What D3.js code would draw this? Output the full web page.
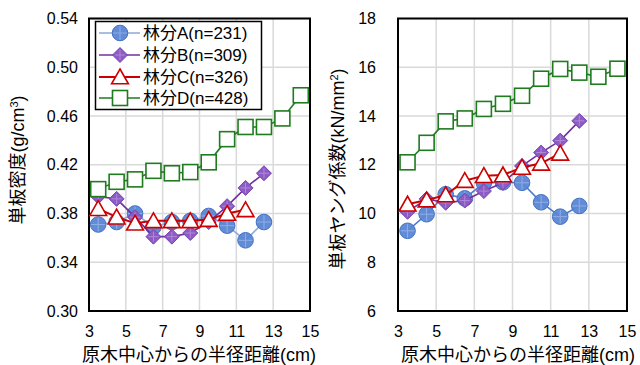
<!DOCTYPE html>
<html><head><meta charset="utf-8">
<script src="https://cdn.jsdelivr.net/npm/d3@7"></script>
<style>
html,body{margin:0;padding:0;background:#fff;}
svg{display:block;font-family:"Liberation Sans","Noto Sans CJK JP",sans-serif;}
</style></head><body>
<svg id="c" width="640" height="365"></svg>
<script>
// ---- data ----
const xs = [3.5,4.5,5.5,6.5,7.5,8.5,9.5,10.5,11.5,12.5,13.5,14.5];
const seriesNames = ["林分A(n=231)","林分B(n=309)","林分C(n=326)","林分D(n=428)"];
const densityA = [0.371,0.373,0.380,0.369,0.373,0.374,0.378,0.370,0.358,0.373];
const densityB = [0.394,0.392,0.377,0.361,0.361,0.364,0.373,0.386,0.401,0.413];
const densityC = [0.384,0.377,0.372,0.374,0.374,0.374,0.375,0.380,0.383];
const densityD = [0.400,0.406,0.408,0.415,0.413,0.414,0.422,0.441,0.451,0.451,0.458,0.477];
const modulusA = [9.29,9.97,10.79,10.62,11.26,11.28,11.26,10.46,9.87,10.31];
const modulusB = [10.07,10.60,10.44,10.53,10.92,11.26,11.95,12.50,12.99,13.80];
const modulusC = [10.38,10.55,10.76,11.35,11.55,11.58,11.89,12.06,12.47];
const modulusD = [12.10,12.90,13.78,13.90,14.29,14.50,14.83,15.53,15.93,15.78,15.61,15.94];
const xTicks = [3,5,7,9,11,13,15];
const densityTicks = [0.30,0.34,0.38,0.42,0.46,0.50,0.54];
const modulusTicks = [6,8,10,12,14,16,18];
const xTitle = "原木中心からの半径距離(cm)";

const FONT = "Liberation Sans, Noto Sans CJK JP, sans-serif";
const svg = d3.select("#c");
const styles = [
  {line:"#8EA9DB", lw:1.6, marker:"circle"},
  {line:"#7030A0", lw:1.6, marker:"diamond"},
  {line:"#CC0000", lw:2,   marker:"triangle"},
  {line:"#1E7B1E", lw:1.6, marker:"square"}
];

function drawMarker(g, type, x, y){
  if(type==="circle"){
    g.append("circle").attr("cx",x).attr("cy",y).attr("r",7.8)
      .attr("fill","#5B86D4").attr("stroke","#4472C4").attr("stroke-width",1).attr("fill-opacity",0.95);
    g.append("path").attr("d",`M${x-7},${y}H${x+7}M${x},${y-7}V${y+7}`)
      .attr("stroke","#8FAEE6").attr("stroke-width",1);
  } else if(type==="diamond"){
    const s=7.5;
    g.append("path").attr("d",`M${x},${y-s}L${x+s},${y}L${x},${y+s}L${x-s},${y}Z`)
      .attr("fill","#8C5BC4").attr("stroke","#7A45B5").attr("stroke-width",1);
    g.append("path").attr("d",`M${x-5},${y}H${x+5}M${x},${y-5}V${y+5}`)
      .attr("stroke","#B08AD8").attr("stroke-width",1);
  } else if(type==="triangle"){
    const s=8;
    g.append("path").attr("d",`M${x},${y-s}L${x+s*1.05},${y+s*0.85}L${x-s*1.05},${y+s*0.85}Z`)
      .attr("fill","#fff").attr("stroke","#CC0000").attr("stroke-width",1.6);
  } else {
    const s=7.5;
    g.append("rect").attr("x",x-s).attr("y",y-s).attr("width",2*s).attr("height",2*s)
      .attr("fill","#fff").attr("stroke","#1E7B1E").attr("stroke-width",1.6);
  }
}

function panel(cfg){
  const x = d3.scaleLinear().domain([3,15]).range([cfg.x0,cfg.x1]);
  const y = d3.scaleLinear().domain(cfg.domain).range([311,18.5]);
  const g = svg.append("g");
  // grid
  g.selectAll(".vg").data(xTicks).join("line")
    .attr("x1",d=>x(d)).attr("x2",d=>x(d)).attr("y1",y.range()[0]).attr("y2",y.range()[1])
    .attr("stroke","#D9D9D9").attr("stroke-width",1.5);
  g.selectAll(".hg").data(cfg.ticks).join("line")
    .attr("y1",d=>y(d)).attr("y2",d=>y(d)).attr("x1",cfg.x0).attr("x2",cfg.x1)
    .attr("stroke","#D9D9D9").attr("stroke-width",1.5);
  // axes with d3
  const ax = d3.axisBottom(x).tickValues(xTicks).tickSize(0).tickPadding(15).tickFormat(d3.format("d"));
  const ga = g.append("g").attr("transform","translate(0,311)").call(ax);
  ga.select(".domain").remove();
  ga.selectAll("text").attr("font-size",16).attr("fill","#000")
    .attr("font-family","Liberation Sans, sans-serif").attr("dy","0.71em");
  const ay = d3.axisLeft(y).tickValues(cfg.ticks).tickSize(0).tickPadding(cfg.x0-cfg.labelX).tickFormat(cfg.fmt);
  const gy = g.append("g").attr("transform",`translate(${cfg.x0},0)`).call(ay);
  gy.select(".domain").remove();
  gy.selectAll("text").attr("font-size",16).attr("fill","#000").attr("font-family","Liberation Sans, sans-serif");
  // frame
  g.append("rect").attr("x",cfg.x0).attr("y",18.5).attr("width",cfg.x1-cfg.x0).attr("height",311-18.5)
    .attr("fill","none").attr("stroke","#000").attr("stroke-width",2);
  // series
  cfg.series.forEach((vals,i)=>{
    const st = styles[i];
    const pts = vals.map((v,j)=>[xs[j],v]);
    g.append("path").datum(pts)
      .attr("d",d3.line().x(d=>x(d[0])).y(d=>y(d[1])))
      .attr("fill","none").attr("stroke",cfg.lineColors[i]).attr("stroke-width",st.lw);
    const mg = g.append("g");
    pts.forEach(p=>drawMarker(mg, st.marker, x(p[0]), y(p[1])));
  });
  // y title
  const t = g.append("text").attr("transform",`translate(${cfg.titleX},${cfg.titleY}) rotate(-90)`)
    .attr("text-anchor","middle").attr("font-size",18).attr("fill","#000")
    .attr("font-family",FONT);
  t.append("tspan").text(cfg.title[0]);
  t.append("tspan").text(cfg.title[1]).attr("font-size",11).attr("baseline-shift","super");
  t.append("tspan").text(")");
  // x title
  g.append("text").attr("x",cfg.xTitleX).attr("y",361).attr("text-anchor","middle")
    .attr("font-size",18).attr("fill","#000").attr("font-family",FONT)
    .text(xTitle);
  return {x,y};
}

panel({x0:89,x1:310,domain:[0.30,0.54],ticks:densityTicks,fmt:d3.format(".2f"),labelX:78,
  series:[densityA,densityB,densityC,densityD],
  lineColors:["#8EA9DB","#7030A0","#CC0000","#1E7B1E"],
  title:["単板密度(g/cm","3"],titleX:24,titleY:160,xTitleX:199});
panel({x0:398,x1:627,domain:[6,18],ticks:modulusTicks,fmt:d3.format("d"),labelX:376,
  series:[modulusA,modulusB,modulusC,modulusD],
  lineColors:["#4A7BD0","#7030A0","#CC0000","#1E7B1E"],
  title:["単板ヤング係数(kN/mm","2"],titleX:344,titleY:169,xTitleX:518});

// legend
const lg = svg.append("g");
lg.append("rect").attr("x",95.5).attr("y",21.5).attr("width",166).attr("height",88)
  .attr("fill","#fff").attr("stroke","#000").attr("stroke-width",1.5);
const rowY = [33,55,77,98];
seriesNames.forEach((n,i)=>{
  lg.append("line").attr("x1",99).attr("x2",140).attr("y1",rowY[i]).attr("y2",rowY[i])
    .attr("stroke",styles[i].line).attr("stroke-width",styles[i].lw);
  drawMarker(lg, styles[i].marker, 120, rowY[i]);
  lg.append("text").attr("x",143).attr("y",rowY[i]).attr("dy","0.36em")
    .attr("font-size",17).attr("fill","#000").attr("font-family",FONT).text(n);
});
</script></body></html>
